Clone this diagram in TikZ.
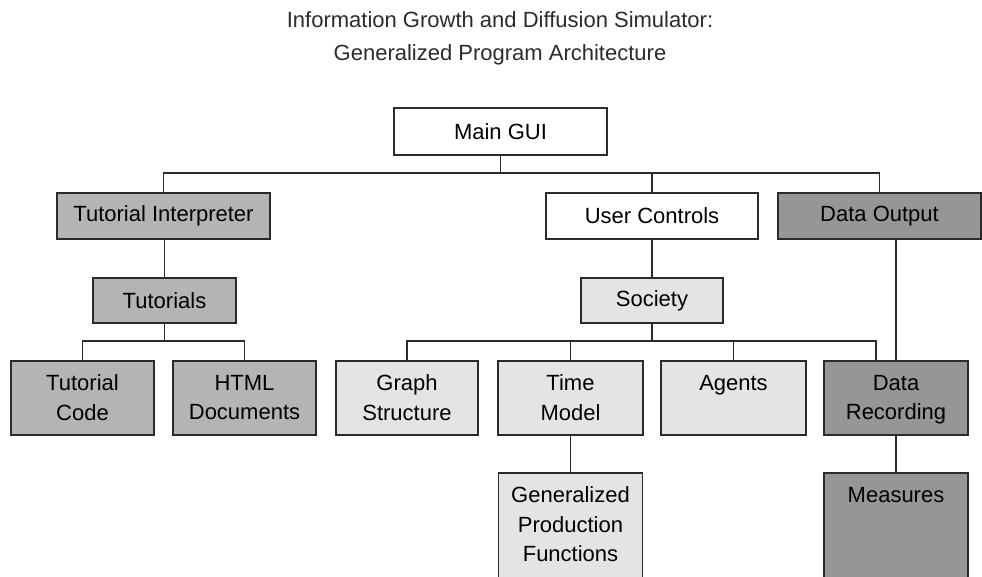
\documentclass[tikz,border=0pt]{standalone}
\usepackage{fontspec}
\setmainfont{Liberation Sans}
\usetikzlibrary{positioning}
\definecolor{Edge}{HTML}{2B2B2B}
\definecolor{TutGray}{HTML}{B4B4B4}
\definecolor{SocGray}{HTML}{E4E4E4}
\definecolor{DatGray}{HTML}{969696}
\newcommand{\toptxt}[2]{\parbox[c][#1pt][t]{140pt}{\centering #2}}

\begin{document}
\begin{tikzpicture}[x=1pt,y=-1pt,
      blk/.style={draw=Edge,line width=1.4pt,fill=white,inner sep=0pt,
        minimum height=46pt,font=\fontsize{22}{29.5}\selectfont,align=center},
      tut/.style={blk,fill=TutGray},
      soc/.style={blk,fill=SocGray},
      dat/.style={blk,fill=DatGray},
      low/.style={minimum width=143pt,minimum height=74pt},
      deep/.style={minimum width=144pt,minimum height=130pt},
      link/.style={draw=Edge,line width=1.4pt}
    ]
      \useasboundingbox (0,0) rectangle (982,577);
      \node[font=\fontsize{22}{33}\selectfont,align=center,text=Edge] (title)
        at (500,38) {Information Growth and Diffusion Simulator:\\
         Generalized Program Architecture};
      \node[blk,minimum width=213pt,minimum height=47pt] (gui) at (500.5,131.5) {Main GUI};
      \node[tut,minimum width=213pt] (interp) at (163.5,216) {Tutorial Interpreter};
      \node[blk,minimum width=212pt] (ctrl) at (652,216) {User Controls};
      \node[dat,minimum width=203pt] (dout) at (879.5,216) {Data Output};
      \node[tut,minimum width=143pt,minimum height=45pt] (tuts) at (164.5,300.5) {Tutorials};
      \node[soc,minimum width=142pt,minimum height=45pt] (society) at (652,300.5) {Society};
      \node[tut,low] (tcode) at (82.5,398) {\toptxt{46}{Tutorial\\Code}};
      \node[tut,low] (html) at (244.5,398) {\toptxt{46}{HTML\\Documents}};
      \node[soc,low,minimum width=142pt] (graph) at (407,398) {\toptxt{46}{Graph\\Structure}};
      \node[soc,low,minimum width=145pt] (tmodel) at (570.5,398) {\toptxt{46}{Time\\Model}};
      \node[soc,low,minimum width=145pt] (agents) at (733.5,398) {\toptxt{46}{Agents}};
      \node[dat,low,minimum width=144pt] (drec) at (896,398) {\toptxt{46}{Data\\Recording}};
      \node[soc,deep] (genprod) at (570.5,538) {\toptxt{102}{Generalized\\Production\\Functions}};
      \node[dat,deep] (measures) at (896,538) {\toptxt{102}{Measures}};
      \coordinate (hub) at (500.5,173);
      \coordinate (tutbus) at (164.5,341);
      \coordinate (socbus) at (652,341);
      \coordinate (recin) at ([xshift=-20pt]drec.north);
      \draw[link] (gui.south) -- (hub);
      \draw[link] (interp.north) |- (hub) -| (dout.north);
      \draw[link] (ctrl.north) -- (ctrl.north |- hub);
      \draw[link] (tuts.north) -- (tuts.north |- interp.south);
      \draw[link] (tuts.south) -- (tutbus);
      \draw[link] (tcode.north) |- (tutbus) -| (html.north);
      \draw[link] (society.north) -- (ctrl.south);
      \draw[link] (society.south) -- (socbus);
      \draw[link] (graph.north) |- (socbus) -| (recin);
      \draw[link] (tmodel.north) -- (tmodel.north |- socbus);
      \draw[link] (agents.north) -- (agents.north |- socbus);
      \draw[link] (drec.north) -- (drec.north |- dout.south);
      \draw[link] (tmodel.south) -- (genprod.north);
      \draw[link] (drec.south) -- (measures.north);
    \end{tikzpicture}
\end{document}
